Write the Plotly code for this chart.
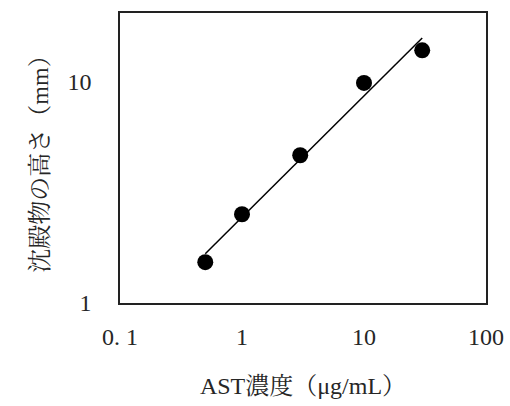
import plotly.graph_objects as go
import math

# Data
conc = [0.5, 1, 3, 10, 30]            # AST concentration (µg/mL)
height = [1.53, 2.52, 4.66, 9.9, 13.9]  # precipitate height (mm)

# Trend line (power fit) end points
fit_x = [0.5, 30]
fit_y = [1.67, 15.8]

x_ticks = [0.1, 1, 10, 100]
x_ticktext = ["0. 1", "1", "10", "100"]
y_ticks = [1, 10]
y_ticktext = ["1", "10"]

FONT = "Liberation Serif, Noto Serif CJK JP, Noto Sans CJK JP, serif"

fig = go.Figure()
fig.add_trace(go.Scatter(x=fit_x, y=fit_y, mode="lines",
                         line=dict(color="black", width=1.5),
                         showlegend=False, hoverinfo="skip"))
fig.add_trace(go.Scatter(x=conc, y=height, mode="markers",
                         marker=dict(color="black", size=16, symbol="circle"),
                         showlegend=False))

fig.update_layout(
    width=510, height=406,
    margin=dict(l=120, r=24, t=13, b=103, autoexpand=False),
    paper_bgcolor="white", plot_bgcolor="white",
    font=dict(family=FONT, size=24, color="#262626"),
    xaxis=dict(type="log", range=[-1, 2], tickvals=x_ticks, ticktext=x_ticktext,
               showgrid=False, zeroline=False, showline=True, mirror=True,
               linecolor="#222", linewidth=1.5, ticks="", ticklabelstandoff=11,
               automargin=False,
               title=dict(text="AST濃度（μg/mL）", standoff=29,
                          font=dict(family=FONT, size=24))),
    yaxis=dict(type="log", range=[0, math.log10(20.5)], tickvals=y_ticks, ticktext=y_ticktext,
               showgrid=False, zeroline=False, showline=True, mirror=True,
               linecolor="#222", linewidth=1.5, ticks="", ticklabelstandoff=22,
               automargin=False,
               title=dict(text="沈殿物の高さ（mm）", standoff=12,
                          font=dict(family=FONT, size=24))),
)

fig.write_html("out.html", config={"displayModeBar": False},
               post_script="document.body.style.margin='0';document.body.style.overflow='hidden';")
